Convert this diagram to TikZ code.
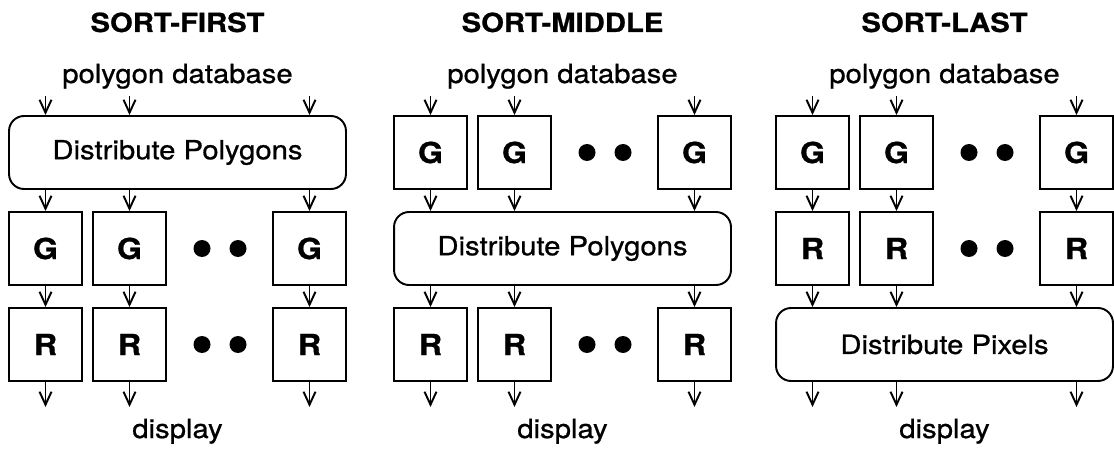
\documentclass[tikz,border=0pt]{standalone}
\usepackage{fontspec}
\setmainfont{TeX Gyre Heros}[FakeStretch=1.11, FakeBold=0.8]
\usetikzlibrary{arrows.meta}

\tikzset{
  proc/.style={draw, minimum width=1.46cm, minimum height=1.46cm, inner sep=0pt, font=\fontsize{16.5}{18}\selectfont\bfseries},
  dist/.style={draw, rounded corners=0.3cm, minimum width=6.74cm, minimum height=1.46cm, inner sep=0pt},
  arr/.style={-{Straight Barb[length=0.26cm,width=0.24cm]}}
}

\begin{document}
\begin{tikzpicture}[x=0.02cm, y=-0.02cm, line width=1.1pt, font=\fontsize{15}{17}\selectfont]

\useasboundingbox (0,0) rectangle (1114,452);

% SORT-FIRST
\node[anchor=base] (t1) at (177.5,32) {\bfseries SORT-FIRST};
\node[anchor=base] (db1) at (177.5,83) {polygon database};
\node[dist] (dp1) at (177.5,152.5) {Distribute Polygons};

\node[proc] (g1a) at (45.5,248.5) {G};
\node[proc] (g1b) at (129.5,248.5) {G};
\node[proc] (g1c) at (309.5,248.5) {G};
\node[proc] (r1a) at (45.5,344.5) {R};
\node[proc] (r1b) at (129.5,344.5) {R};
\node[proc] (r1c) at (309.5,344.5) {R};

\fill (202,248.5) circle[radius=0.17cm];
\fill (238,248.5) circle[radius=0.17cm];
\fill (202,344.5) circle[radius=0.17cm];
\fill (238,344.5) circle[radius=0.17cm];

\node[anchor=base] (ds1) at (177.5,438) {display};

\coordinate (in1a) at (45.5,96);
\coordinate (in1b) at (129.5,96);
\coordinate (in1c) at (309.5,96);
\coordinate (out1a) at (45.5,407);
\coordinate (out1b) at (129.5,407);
\coordinate (out1c) at (309.5,407);

\draw[arr] (in1a) -- (in1a |- dp1.north);
\draw[arr] (in1b) -- (in1b |- dp1.north);
\draw[arr] (in1c) -- (in1c |- dp1.north);
\draw[arr] (g1a.north |- dp1.south) -- (g1a);
\draw[arr] (g1b.north |- dp1.south) -- (g1b);
\draw[arr] (g1c.north |- dp1.south) -- (g1c);
\draw[arr] (g1a) -- (r1a);
\draw[arr] (g1b) -- (r1b);
\draw[arr] (g1c) -- (r1c);
\draw[arr] (r1a) -- (out1a);
\draw[arr] (r1b) -- (out1b);
\draw[arr] (r1c) -- (out1c);

% SORT-MIDDLE
\node[anchor=base] (t2) at (562.5,32) {\bfseries SORT-MIDDLE};
\node[anchor=base] (db2) at (562.5,83) {polygon database};

\node[proc] (g2a) at (430.5,152.5) {G};
\node[proc] (g2b) at (514.5,152.5) {G};
\node[proc] (g2c) at (694.5,152.5) {G};
\node[dist] (dp2) at (562.5,248.5) {Distribute Polygons};
\node[proc] (r2a) at (430.5,344.5) {R};
\node[proc] (r2b) at (514.5,344.5) {R};
\node[proc] (r2c) at (694.5,344.5) {R};

\fill (587,152.5) circle[radius=0.17cm];
\fill (623,152.5) circle[radius=0.17cm];
\fill (587,344.5) circle[radius=0.17cm];
\fill (623,344.5) circle[radius=0.17cm];

\node[anchor=base] (ds2) at (562.5,438) {display};

\coordinate (in2a) at (430.5,96);
\coordinate (in2b) at (514.5,96);
\coordinate (in2c) at (694.5,96);
\coordinate (out2a) at (430.5,407);
\coordinate (out2b) at (514.5,407);
\coordinate (out2c) at (694.5,407);

\draw[arr] (in2a) -- (g2a);
\draw[arr] (in2b) -- (g2b);
\draw[arr] (in2c) -- (g2c);
\draw[arr] (g2a) -- (g2a.south |- dp2.north);
\draw[arr] (g2b) -- (g2b.south |- dp2.north);
\draw[arr] (g2c) -- (g2c.south |- dp2.north);
\draw[arr] (r2a.north |- dp2.south) -- (r2a);
\draw[arr] (r2b.north |- dp2.south) -- (r2b);
\draw[arr] (r2c.north |- dp2.south) -- (r2c);
\draw[arr] (r2a) -- (out2a);
\draw[arr] (r2b) -- (out2b);
\draw[arr] (r2c) -- (out2c);

% SORT-LAST
\node[anchor=base] (t3) at (944.5,32) {\bfseries SORT-LAST};
\node[anchor=base] (db3) at (944.5,83) {polygon database};

\node[proc] (g3a) at (812.5,152.5) {G};
\node[proc] (g3b) at (896.5,152.5) {G};
\node[proc] (g3c) at (1076.5,152.5) {G};
\node[proc] (r3a) at (812.5,248.5) {R};
\node[proc] (r3b) at (896.5,248.5) {R};
\node[proc] (r3c) at (1076.5,248.5) {R};
\node[dist] (dx3) at (944.5,344.5) {Distribute Pixels};

\fill (969,152.5) circle[radius=0.17cm];
\fill (1005,152.5) circle[radius=0.17cm];
\fill (969,248.5) circle[radius=0.17cm];
\fill (1005,248.5) circle[radius=0.17cm];

\node[anchor=base] (ds3) at (944.5,438) {display};

\coordinate (in3a) at (812.5,96);
\coordinate (in3b) at (896.5,96);
\coordinate (in3c) at (1076.5,96);
\coordinate (out3a) at (812.5,407);
\coordinate (out3b) at (896.5,407);
\coordinate (out3c) at (1076.5,407);

\draw[arr] (in3a) -- (g3a);
\draw[arr] (in3b) -- (g3b);
\draw[arr] (in3c) -- (g3c);
\draw[arr] (g3a) -- (r3a);
\draw[arr] (g3b) -- (r3b);
\draw[arr] (g3c) -- (r3c);
\draw[arr] (r3a) -- (r3a.south |- dx3.north);
\draw[arr] (r3b) -- (r3b.south |- dx3.north);
\draw[arr] (r3c) -- (r3c.south |- dx3.north);
\draw[arr] (out3a |- dx3.south) -- (out3a);
\draw[arr] (out3b |- dx3.south) -- (out3b);
\draw[arr] (out3c |- dx3.south) -- (out3c);

\end{tikzpicture}
\end{document}
